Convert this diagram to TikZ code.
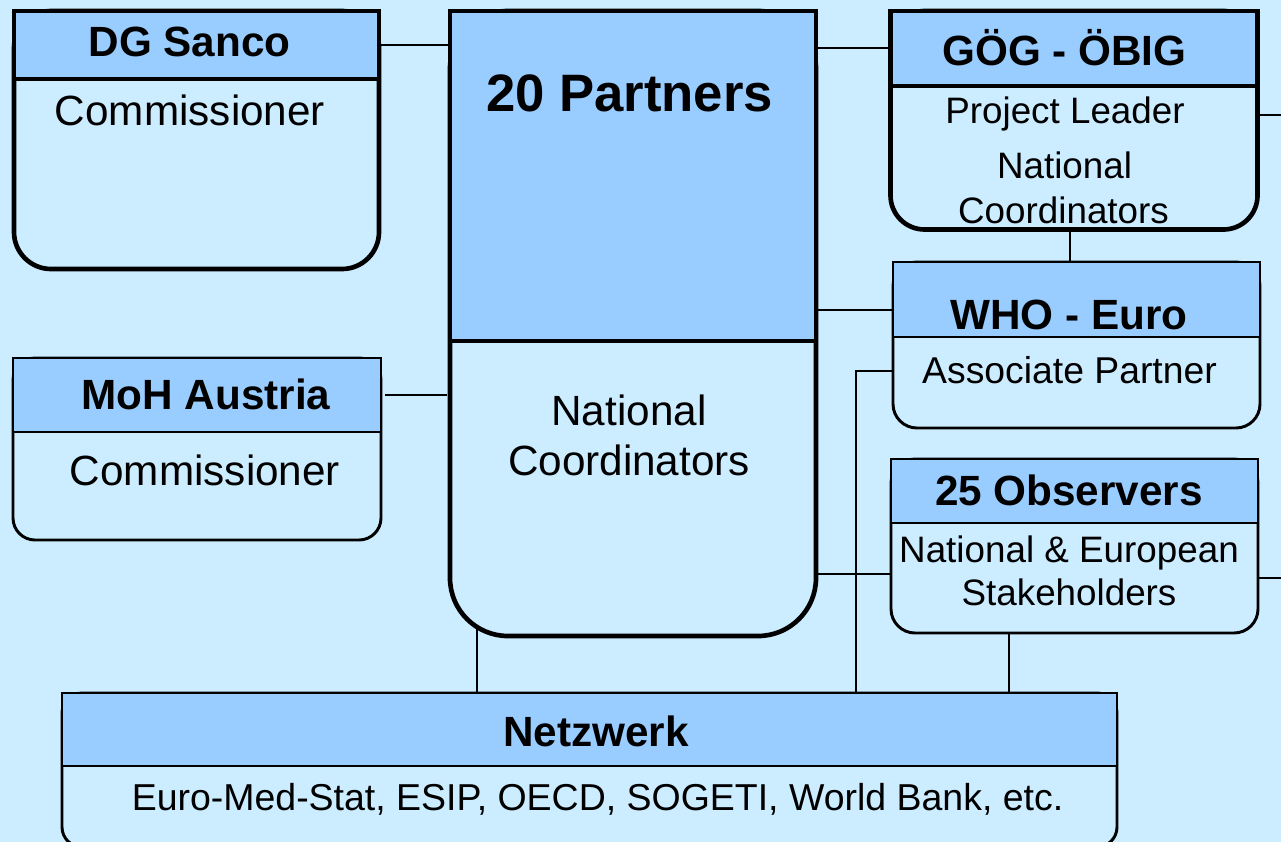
\documentclass[tikz,border=0pt]{standalone}
\usepackage{fontspec}
\setmainfont{Liberation Sans}
\usetikzlibrary{fit,calc}
\definecolor{bgc}{HTML}{CCECFF}
\definecolor{hdc}{HTML}{99CCFF}
\pgfdeclarelayer{back}
\pgfdeclarelayer{lines}
\pgfsetlayers{back,lines,main}
\begin{document}
\begin{tikzpicture}[x=0.75pt,y=-0.75pt,
  thickbox/.style={draw=black, line width=3.5pt, fill=bgc, inner sep=0pt, outer sep=0pt},
  thinbox/.style={draw=black, line width=2.2pt, fill=bgc, inner sep=0pt, outer sep=0pt},
  thickhead/.style={thickbox, fill=hdc},
  thinhead/.style={thinbox, fill=hdc},
  link/.style={draw=black, line width=1.5pt},
  lbl/.style={anchor=base, inner sep=0pt, text=black},
  txtbig/.style={lbl, font=\fontsize{31.7}{38}\selectfont},
  txtbold/.style={lbl, font=\fontsize{31.7}{38}\selectfont\bfseries},
  txthuge/.style={lbl, font=\fontsize{39.5}{47}\selectfont\bfseries},
  txtsmall/.style={lbl, font=\fontsize{27.6}{33}\selectfont},
]
\begin{pgfonlayer}{back}
\fill[bgc] (0,0) rectangle (1281,842);
\end{pgfonlayer}
\useasboundingbox (0,0) rectangle (1281,842);

% boxes
\node[thickbox, rounded corners=27.75pt, fit={(14,11) (379,269)}] (dg) {};
\node[thickhead, fit={(14,11) (379,79)}] (dgh) {};
\node[thickbox, rounded corners=43.5pt, fit={(450,11) (816,636)}] (p) {};
\node[thickhead, fit={(450,11) (816,341)}] (ph) {};
\node[thickbox, rounded corners=25.5pt, fit={(890.5,11) (1257.5,229.5)}] (g) {};
\node[thickhead, fit={(890.5,11) (1257.5,86)}] (gh) {};
\node[thinbox, rounded corners=18pt, fit={(893,262) (1260,428)}] (w) {};
\node[thinhead, fit={(893,262) (1260,337)}] (wh) {};
\node[thinbox, rounded corners=18pt, fit={(891,459) (1258,633)}] (o) {};
\node[thinhead, fit={(891,459) (1258,523)}] (oh) {};
\node[thinbox, rounded corners=16.5pt, fit={(13,358) (381,540)}] (m) {};
\node[thinhead, fit={(13,358) (381,432)}] (mh) {};
\node[thinbox, rounded corners=15pt, fit={(62,693) (1117,847)}] (n) {};
\node[thinhead, fit={(62,693) (1117,766)}] (nh) {};

% texts
\node[txtbold] (t1) at (189.5,57) {DG Sanco};
\node[txtbig] (t2) at (190,125) {Commissioner};
\node[txthuge] (t3) at (629.5,112) {20 Partners};
\node[txtbig] (t4) at (629,425) {National};
\node[txtbig] (t5) at (629,475) {Coordinators};
\node[txtbold] (t6) at (1064.5,65) {GÖG - ÖBIG};
\node[txtsmall] (t7) at (1065,123) {Project Leader};
\node[txtsmall] (t8) at (1064.5,178) {National};
\node[txtsmall] (t9) at (1063.5,223) {Coordinators};
\node[txtbold] (t10) at (1069,329) {WHO - Euro};
\node[lbl, font=\fontsize{28}{33}\selectfont] (t11) at (1069.5,383) {Associate Partner};
\node[txtbold] (t12) at (1069,505) {25 Observers};
\node[txtsmall] (t13) at (1069,562) {National \& European};
\node[txtsmall] (t14) at (1069,605) {Stakeholders};
\node[txtbold] (t15) at (206,409) {MoH Austria};
\node[txtbig] (t16) at (205,485) {Commissioner};
\node[txtbold] (t17) at (596,746) {Netzwerk};
\node[lbl, font=\fontsize{28.1}{33}\selectfont] (t18) at (597.5,810) {Euro-Med-Stat, ESIP, OECD, SOGETI, World Bank, etc.};

% connectors
\coordinate (wl) at ($(w.north west)+(0,48)$);
\coordinate (wl2) at ($(w.north west)+(0,109)$);
\coordinate (wbend) at (856,371);
\coordinate (ol) at ($(o.north west)+(0,115)$);
\coordinate (ob) at (1009,633);
\coordinate (pb) at (477,600);
\coordinate (gb) at (1070,200);
\coordinate (ge) at (1281,115);
\coordinate (oe) at (1281,578);
\begin{pgfonlayer}{lines}
\draw[link] (dgh.east) -- (dgh.east -| p.west);
\draw[link, shorten <=3pt, shorten >=2pt] (mh.east) -- (mh.east -| p.west);
\draw[link] (p.east |- gh.west) -- (gh.west);
\draw[link] (wl) -- (wl -| p.east);
\draw[link] (wl2) -- (wbend) -- (wbend |- n.north);
\draw[link] (ol) -- (ol -| p.east);
\draw[link] (gb) -- (gb |- w.north);
\draw[link] (ob) -- (ob |- n.north);
\draw[link] (pb) -- (pb |- n.north);
\draw[link] (g.east |- ge) -- (ge);
\draw[link] (o.east |- oe) -- (oe);
\end{pgfonlayer}
\end{tikzpicture}
\end{document}
